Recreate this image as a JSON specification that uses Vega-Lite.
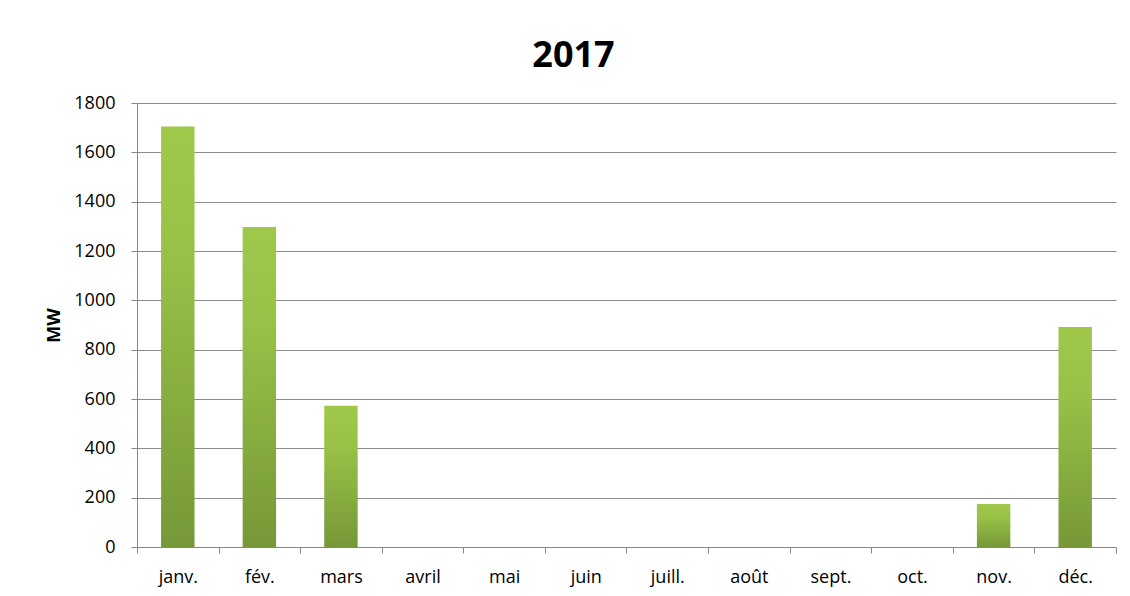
{
  "$schema": "https://vega.github.io/schema/vega-lite/v6.json",
  "width": 979,
  "height": 444,
  "autosize": "none",
  "padding": {"left": 137, "top": 103, "right": 14, "bottom": 49},
  "background": "white",
  "title": {
    "text": "2017",
    "font": "Open Sans",
    "fontSize": 36,
    "fontWeight": "bold",
    "color": "#000000",
    "anchor": "middle",
    "dx": -53,
    "dy": 47,
    "baseline": "alphabetic",
    "offset": 38
  },
  "data": {
    "values": [
      {"mois": "janv.", "MW": 1705},
      {"mois": "fév.", "MW": 1297},
      {"mois": "mars", "MW": 573},
      {"mois": "avril", "MW": 0},
      {"mois": "mai", "MW": 0},
      {"mois": "juin", "MW": 0},
      {"mois": "juill.", "MW": 0},
      {"mois": "août", "MW": 0},
      {"mois": "sept.", "MW": 0},
      {"mois": "oct.", "MW": 0},
      {"mois": "nov.", "MW": 174},
      {"mois": "déc.", "MW": 892}
    ]
  },
  "mark": {
    "type": "bar",
    "width": {"band": 0.41},
    "color": {
      "gradient": "linear",
      "x1": 0, "y1": 0, "x2": 0, "y2": 1,
      "stops": [
        {"offset": 0, "color": "#9fc84b"},
        {"offset": 0.3, "color": "#99c147"},
        {"offset": 1, "color": "#769838"}
      ]
    }
  },
  "encoding": {
    "x": {
      "field": "mois",
      "type": "nominal",
      "sort": null,
      "scale": {"paddingInner": 0, "paddingOuter": 0},
      "axis": {
        "title": null,
        "labelAngle": 0,
        "labelFont": "Open Sans",
        "labelFontSize": 18,
        "labelColor": "#000000",
        "labelPadding": 15,
        "tickBand": "extent",
        "tickSize": 6,
        "tickColor": "#868686",
        "domainColor": "#868686",
        "grid": false
      }
    },
    "y": {
      "field": "MW",
      "type": "quantitative",
      "scale": {"domain": [0, 1800], "nice": false},
      "axis": {
        "title": "MW",
        "titleFont": "Open Sans",
        "titleFontSize": 18,
        "titleFontWeight": "bold",
        "titleColor": "#000000",
        "titlePadding": 10,
        "values": [0, 200, 400, 600, 800, 1000, 1200, 1400, 1600, 1800],
        "format": "d",
        "labelFont": "Open Sans",
        "labelFontSize": 18,
        "labelColor": "#000000",
        "labelPadding": 16,
        "tickSize": 6,
        "tickColor": "#868686",
        "domainColor": "#868686",
        "gridColor": "#8c8c8c",
        "gridOpacity": 1
      }
    }
  },
  "config": {
    "view": {"stroke": null}
  }
}
